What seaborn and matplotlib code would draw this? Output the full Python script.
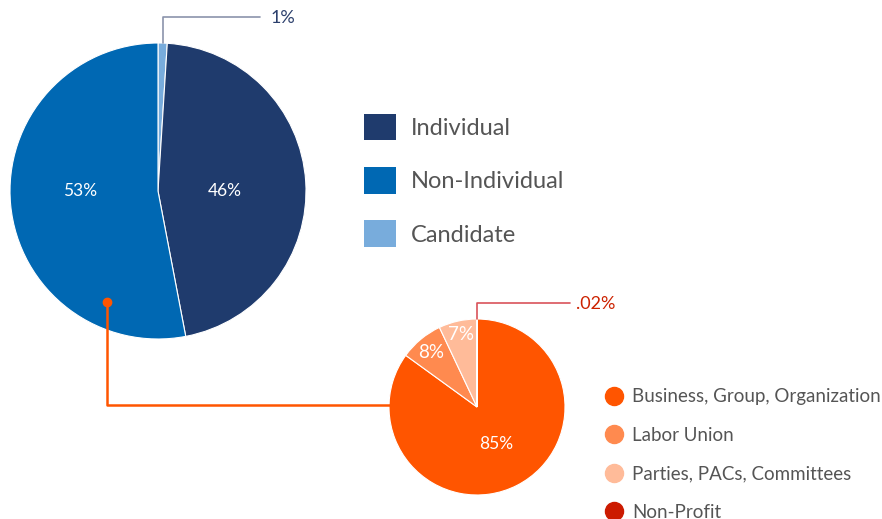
import numpy as np
import seaborn as sns
import matplotlib.pyplot as plt
from matplotlib.patches import Patch
from matplotlib.lines import Line2D

# data
main_labels = ["Candidate", "Individual", "Non-Individual"]
main_values = [1, 46, 53]
main_colors = ["#78acdc", "#1f3b6d", "#0068b3"]

sub_labels = ["Business, Group, Organization", "Labor Union", "Parties, PACs, Committees", "Non-Profit"]
sub_values = [85, 8, 7, 0.02]
sub_colors = ["#ff5500", "#ff8a4f", "#ffbb99", "#cc1a00"]

legend1_order = ["Individual", "Non-Individual", "Candidate"]

sns.set_theme(style="white")
plt.rcParams["font.family"] = ["Lato", "DejaVu Sans"]

W, H = 882, 519
fig = plt.figure(figsize=(W / 100, H / 100), dpi=100)
ax = fig.add_axes([0, 0, 1, 1])

# pies drawn in pixel-like coordinates (y up)
big_c, big_r = (158, 519 - 191), 148
small_c, small_r = (477, 519 - 407), 88

big_wedges, _ = ax.pie(main_values, colors=main_colors, startangle=90, counterclock=False,
                       center=big_c, radius=big_r,
                       wedgeprops=dict(edgecolor="white", linewidth=0.8))
small_wedges, _ = ax.pie(sub_values, colors=sub_colors, startangle=90, counterclock=False,
                         center=small_c, radius=small_r,
                         wedgeprops=dict(edgecolor="white", linewidth=0.8))


def wedge_point(w, frac):
    ang = np.deg2rad((w.theta1 + w.theta2) / 2)
    return w.center[0] + frac * w.r * np.cos(ang), w.center[1] + frac * w.r * np.sin(ang)


# percent labels inside the big pie (level with the centre)
for w, txt, frac in [(big_wedges[1], "46%", 0.45), (big_wedges[2], "53%", 0.53)]:
    x, _ = wedge_point(w, frac)
    ax.text(x, w.center[1], txt, color="white", fontsize=12.5, ha="center", va="center")
for w, txt, frac, fs in [(small_wedges[0], "85%", 0.47, 12.5), (small_wedges[1], "8%", 0.81, 13.5),
                         (small_wedges[2], "7%", 0.85, 13.5)]:
    x, y = wedge_point(w, frac)
    ax.text(x, y, txt, color="white", fontsize=fs, ha="center", va="center")

# leader for the 1% candidate slice
x0, y0 = wedge_point(big_wedges[0], 1.0)
ax.plot([x0, x0, 260], [y0, 519 - 17, 519 - 17], color="#8b93ab", lw=1.2)
ax.text(271, 519 - 18, "1%", color="#2b3f6c", fontsize=13, ha="left", va="center")

# leader for the .02% non-profit slice
x1, y1 = wedge_point(small_wedges[3], 1.0)
ax.plot([x1, x1, 570], [y1, 519 - 303, 519 - 303], color="#d9535a", lw=1.2)
ax.text(576, 519 - 304, ".02%", color="#cc2200", fontsize=13, ha="left", va="center")

# connector from non-individual to the breakdown pie
ax.plot([107, 107, 390], [519 - 302, 519 - 405, 519 - 405], color="#ff5500", lw=1.8)
ax.plot([107], [519 - 302], "o", color="#ff5500", ms=6)

# legends
handles1 = [Patch(facecolor=main_colors[main_labels.index(l)], edgecolor="none") for l in legend1_order]
leg1 = ax.legend(handles1, legend1_order, loc="upper left", bbox_to_anchor=(352, 519 - 102),
                 bbox_transform=ax.transData, frameon=False, fontsize=17,
                 handlelength=1.36, handleheight=1.36, handletextpad=0.62, labelspacing=1.13,
                 borderpad=0, labelcolor="#555555")
ax.add_artist(leg1)

handles2 = [Line2D([], [], marker="o", ls="none", color=c, ms=13) for c in sub_colors]
ax.legend(handles2, sub_labels, loc="upper left", bbox_to_anchor=(595, 519 - 379),
          bbox_transform=ax.transData, frameon=False, fontsize=13.5,
          handlelength=1.0, handletextpad=0.5, labelspacing=1.14, borderpad=0,
          labelcolor="#555555")

ax.set_xlim(0, W)
ax.set_ylim(0, H)
ax.set_aspect("equal")
ax.axis("off")

plt.savefig("out.png", dpi=100)
plt.close()
